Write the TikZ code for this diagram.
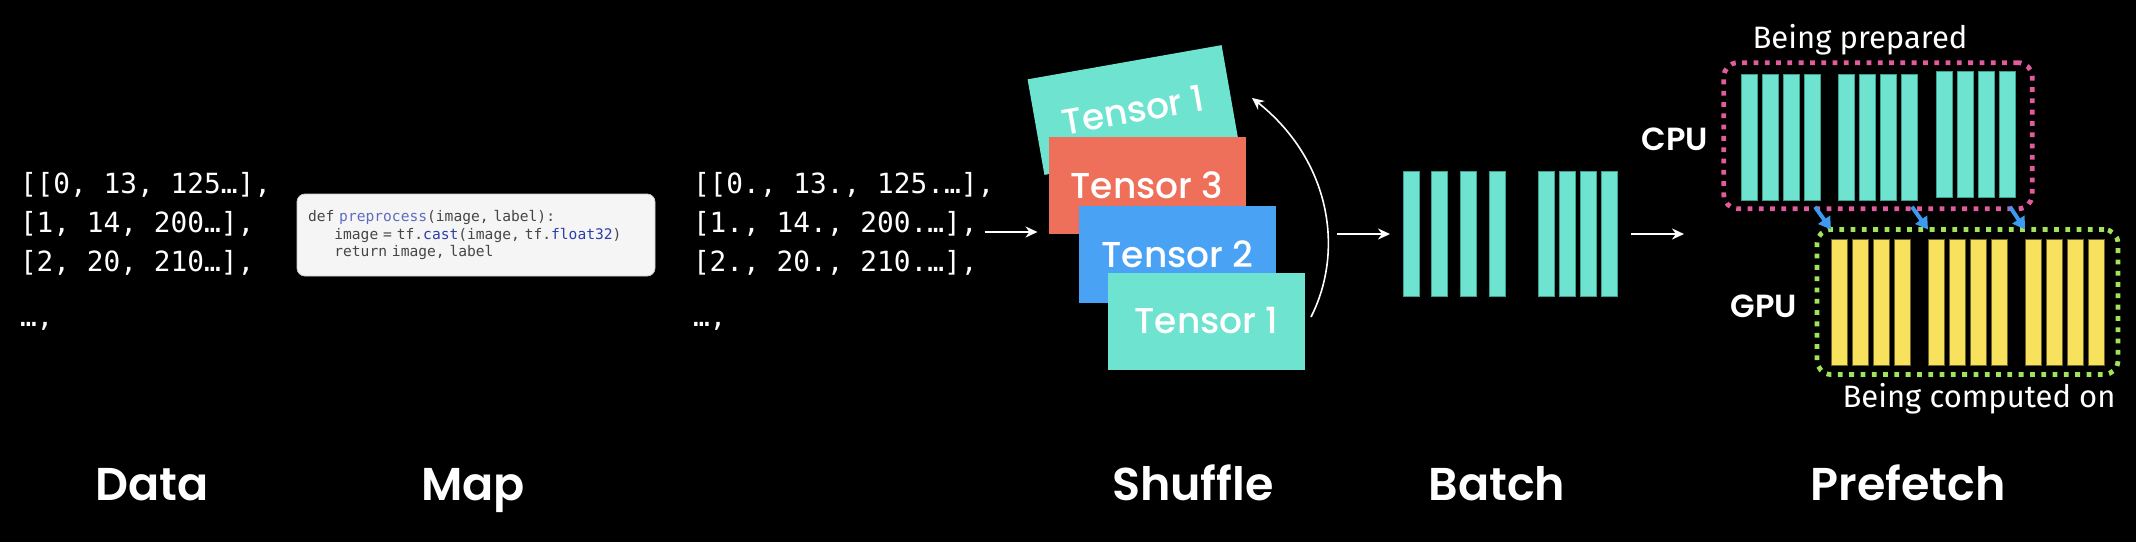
\documentclass[tikz,border=0pt]{standalone}
\usepackage{fontspec}
\setsansfont{Poppins}
\setmonofont{DejaVu Sans Mono}
\newfontfamily\handfont{Fira Sans}
\newfontfamily\semifont{Poppins SemiBold}
\newfontfamily\mediumfont{Poppins Medium}
\usepackage{tikz}
\usetikzlibrary{arrows.meta}
\usetikzlibrary{fit}
\usepackage{xcolor}

\begin{document}
\begin{tikzpicture}[x=0.5pt, y=-0.5pt, inner sep=0pt, outer sep=0pt]

    % style
    \tikzset{font=\sffamily};
    \definecolor{myteal}{RGB}{110, 227, 208}
    \definecolor{mytealedge}{RGB}{60, 160, 145}
    \definecolor{myred}{RGB}{238, 112, 90}
    \definecolor{myblue}{RGB}{74, 162, 245}
    \definecolor{myyellow}{RGB}{248, 225, 92}
    \definecolor{myyellowedge}{RGB}{110, 100, 40}
    \definecolor{mypink}{RGB}{224, 92, 156}
    \definecolor{mygreen}{RGB}{160, 228, 90}
    \definecolor{myarrowblue}{RGB}{60, 155, 238}
    \definecolor{mycodebg}{RGB}{245, 245, 245}
    \definecolor{mycodeblue}{RGB}{45, 62, 168}
    \definecolor{mycodelight}{RGB}{95, 108, 192}
    \definecolor{mycodegray}{RGB}{70, 70, 70}
    \tikzset{
        flow/.style={draw=white, line width=1pt, -{Stealth[length=6pt, width=5.5pt]}},
        feed/.style={draw=myarrowblue, line width=2pt, -{Triangle[length=6pt, width=7pt]}},
        steplabel/.style={text=white, font=\semifont\fontsize{23}{28}\selectfont, anchor=base},
        rowtext/.style={text=white, font=\ttfamily\fontsize{13.9}{16}\selectfont, anchor=base west},
        tensor/.style={minimum width=98.5pt, minimum height=48.5pt, text=white, font=\mediumfont\fontsize{18}{20}\selectfont},
        batchbar/.style={minimum width=8pt, minimum height=62.5pt, line width=0.5pt},
        tealbar/.style={batchbar, fill=myteal, draw=mytealedge},
        yellowbar/.style={batchbar, fill=myyellow, draw=myyellowedge},
        dotbox/.style={rounded corners=7pt, line width=2.4pt, dash pattern=on 2.4pt off 3.25pt},
        hand/.style={text=white, font=\handfont\fontsize{15.5}{18}\selectfont},
        unitlabel/.style={text=white, font=\semifont\fontsize{16}{18}\selectfont}
    }

    % black background, also fixes the size
    \path [use as bounding box, fill=black] (0,0) rectangle (2136,542);

    % Data
    \foreach \y/\ytext [count=\i] in {193/{[[0, 13, 125…],}, 232/{[1, 14, 200…],}, 271/{[2, 20, 210…],}, 326/{…,}}
    \node [rowtext] (drow\i) at (20,\y) {\ytext};

    % Map: code snippet
    \node [fill=mycodebg, draw=black!20, rounded corners=4pt, minimum height=41pt, text width=168pt, inner xsep=5.5pt, align=left, text=mycodegray, font=\ttfamily\fontsize{7.3}{8.6}\selectfont] (code) at (476,235) {def {\color{mycodelight}preprocess}(image, label):\\
    \hphantom{xxx}image = tf.{\color{mycodeblue}cast}(image, tf.{\color{mycodeblue}float32})\\
    \hphantom{xxx}return image, label};

    % mapped data
    \foreach \y/\ytext [count=\i] in {193/{[[0., 13., 125.…],}, 232/{[1., 14., 200.…],}, 271/{[2., 20., 210.…],}, 326/{…,}}
    \node [rowtext] (mrow\i) at (693,\y) {\ytext};

    % Shuffle: stack of tensors
    \node [tensor, fill=myteal, rotate=10] (ttop) at (1133,110) {Tensor 1};
    \node [tensor, fill=myred] (tthree) at (1147,185.5) {Tensor 3};
    \node [tensor, fill=myblue] (ttwo) at (1177.5,254.5) {Tensor 2};
    \node [tensor, fill=myteal] (tone) at (1206.5,321) {Tensor 1};
    \draw [flow, shorten <=3.5pt, shorten >=5.5pt] (mrow2.base east) -- (mrow2.base east -| tthree.west);
    % curved arrow back to the top
    \draw [flow, line width=0.8pt] ([xshift=3pt, yshift=2pt]tone.east) .. controls +(17pt,33.5pt) and +(39pt,-31pt) .. ([xshift=11pt, yshift=-2.5pt]ttop.east);

    % Batch
    \foreach \x [count=\i] in {1411, 1439, 1468, 1497.5, 1546, 1567, 1588, 1609}
    \node [tealbar] (b\i) at (\x,234) {};
    \coordinate (shuffleout) at (1337,234);
    \coordinate (prefetchin) at (1684,234);
    \draw [flow, shorten >=6.5pt] (shuffleout) -- (b1.west);
    \draw [flow, shorten <=7pt] (b8.east) -- (prefetchin);

    % Prefetch: CPU batches
    \foreach \g/\gx/\gy in {0/1749/137, 1/1846/137, 2/1944/134.5}
    \foreach \i in {0,...,3}
    \node [tealbar, minimum height=63pt] (c\g\i) at (\gx+21*\i,\gy) {};
    \node [dotbox, draw=mypink, fit=(c00)(c23), inner xsep=8.6pt, inner ysep=4.4pt] (cpu) {};
    % GPU batches
    \foreach \g/\gx in {0/1839, 1/1936, 2/2033}
    \foreach \i in {0,...,3}
    \node [yellowbar, minimum height=63pt] (g\g\i) at (\gx+21*\i,302) {};
    \node [dotbox, draw=mygreen, fit=(g00)(g23), inner xsep=7pt, inner ysep=4.75pt] (gpu) {};
    \foreach \g in {0,1,2}
    \draw [feed] ([xshift=1.5pt, yshift=1pt]c\g3 |- cpu.south) -- (g\g0.west |- gpu.north);

    \node [unitlabel] (cpulabel) at (1675,139) {CPU};
    \node [unitlabel] (gpulabel) at (1764,306) {GPU};
    \node [hand] (prepared) at (1860,40) {Being prepared};
    \node [hand] (computed) at (1979,399) {Being computed on};

    % step names
    \foreach \x/\xtext in {152/Data, 473/Map, 1193/Shuffle, 1497/Batch, 1908/Prefetch}
    \node [steplabel] (step\xtext) at (\x,500) {\xtext};

\end{tikzpicture}
\end{document}
